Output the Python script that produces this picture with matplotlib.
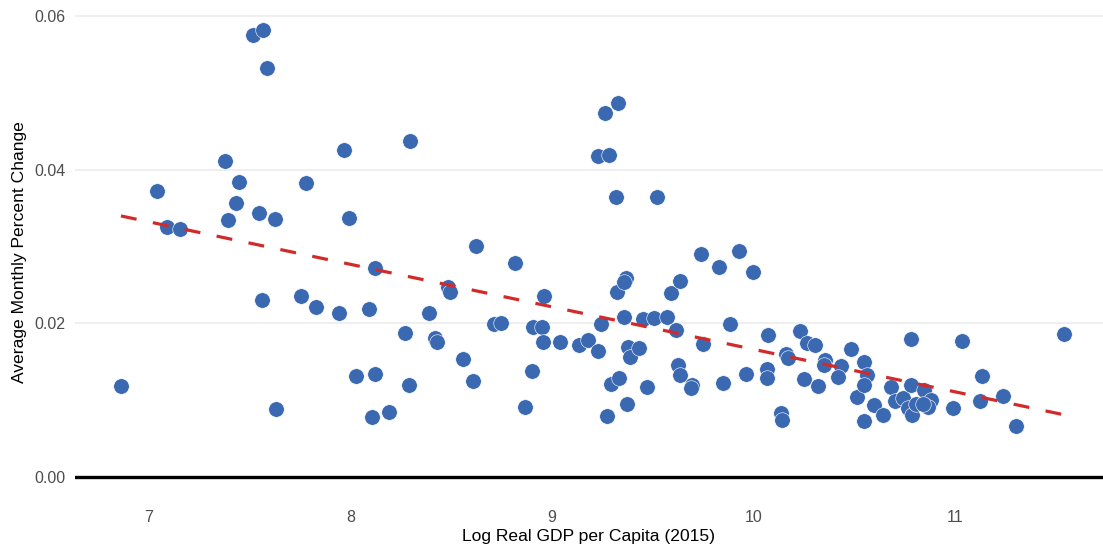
import numpy as np
import matplotlib
matplotlib.use("Agg")
import matplotlib.pyplot as plt

plt.rcParams['font.family'] = ['Liberation Sans', 'DejaVu Sans']

# Data
log_gdp = [
    6.861, 7.040, 7.089, 7.154, 7.378, 7.392, 7.432, 7.447, 7.517, 7.566,
    7.586, 7.546, 7.561, 7.626, 7.631, 7.755, 7.780, 7.830, 7.944, 7.969,
    7.994, 8.029, 8.093, 8.108, 8.123, 8.123, 8.192, 8.272, 8.292, 8.297,
    8.391, 8.421, 8.431, 8.485, 8.495, 8.560, 8.610, 8.624, 8.714, 8.749,
    8.818, 8.868, 8.903, 8.908, 8.952, 8.962, 8.957, 9.042, 9.136, 9.181,
    9.231, 9.231, 9.245, 9.265, 9.285, 9.275, 9.295, 9.320, 9.325, 9.330,
    9.335, 9.360, 9.370, 9.360, 9.375, 9.380, 9.385, 9.434, 9.454, 9.474,
    9.509, 9.519, 9.573, 9.593, 9.618, 9.628, 9.638, 9.638, 9.697, 9.692,
    9.742, 9.752, 9.827, 9.851, 9.886, 9.926, 9.961, 10.000, 10.070, 10.065,
    10.065, 10.135, 10.140, 10.164, 10.174, 10.229, 10.264, 10.308, 10.249, 10.323,
    10.353, 10.348, 10.433, 10.418, 10.482, 10.512, 10.547, 10.562, 10.547, 10.547,
    10.597, 10.641, 10.681, 10.701, 10.741, 10.780, 10.780, 10.766, 10.785, 10.805,
    10.845, 10.880, 10.865, 10.840, 10.989, 11.034, 11.123, 11.133, 11.237, 11.302,
    11.541,
]
avg_change = [
    0.01186, 0.03727, 0.03257, 0.03231, 0.04117, 0.03349, 0.03570, 0.03844, 0.05759, 0.05824,
    0.05329, 0.03440, 0.02306, 0.03362, 0.00886, 0.02358, 0.03831, 0.02215, 0.02137, 0.04260,
    0.03375, 0.01316, 0.02189, 0.00782, 0.02723, 0.01342, 0.00847, 0.01876, 0.01199, 0.04378,
    0.02137, 0.01811, 0.01759, 0.02476, 0.02410, 0.01537, 0.01251, 0.03010, 0.01993, 0.02007,
    0.02788, 0.00912, 0.01381, 0.01954, 0.01954, 0.02358, 0.01759, 0.01759, 0.01720, 0.01785,
    0.04182, 0.01642, 0.01993, 0.04743, 0.04195, 0.00795, 0.01212, 0.03648, 0.02410, 0.04873,
    0.01290, 0.02085, 0.02593, 0.02541, 0.00951, 0.01694, 0.01563, 0.01681, 0.02059, 0.01173,
    0.02072, 0.03648, 0.02085, 0.02397, 0.01915, 0.01459, 0.01329, 0.02554, 0.01199, 0.01160,
    0.02905, 0.01733, 0.02736, 0.01225, 0.01993, 0.02945, 0.01342, 0.02671, 0.01850, 0.01407,
    0.01290, 0.00834, 0.00743, 0.01603, 0.01550, 0.01902, 0.01746, 0.01720, 0.01277, 0.01186,
    0.01524, 0.01459, 0.01446, 0.01303, 0.01668, 0.01042, 0.01498, 0.01329, 0.01199, 0.00730,
    0.00938, 0.00808, 0.01173, 0.00990, 0.01029, 0.01798, 0.01199, 0.00899, 0.00808, 0.00951,
    0.01134, 0.01003, 0.00912, 0.00951, 0.00899, 0.01772, 0.00990, 0.01316, 0.01055, 0.00664,
    0.01863,
]
y_ticks = [0.00, 0.02, 0.04, 0.06]
x_ticks = [7, 8, 9, 10, 11]

x = np.array(log_gdp)
y = np.array(avg_change)

fig = plt.figure(figsize=(11.03, 5.51), dpi=100)
ax = fig.add_axes([0.068, 0.0944, 0.932, 0.8966])

ax.set_xlim(6.633, 11.735)
ax.set_ylim(-0.0029, 0.0615)

for t in y_ticks:
    ax.axhline(t, color='#ebebeb', linewidth=1.1, zorder=0)
ax.axhline(0, color='black', linewidth=2.4, zorder=1)

ax.scatter(x, y, s=125, color='#3a69b2', edgecolors='white', linewidths=0.4, zorder=3)

coef = np.polyfit(x, y, 1)
xs = np.array([x.min(), x.max()])
ax.plot(xs, np.polyval(coef, xs), color='#d12a2a', linewidth=2.3,
        dashes=(5.0, 5.2), zorder=4)

ax.set_xticks(x_ticks)
ax.set_xticklabels([str(v) for v in x_ticks])
ax.set_yticks(y_ticks)
ax.set_yticklabels([f"{v:.2f}" for v in y_ticks])
ax.tick_params(axis='both', length=0, labelsize=11.5, labelcolor='#4d4d4d')
ax.tick_params(axis='x', pad=8)
ax.tick_params(axis='y', pad=7)

for s in ax.spines.values():
    s.set_visible(False)

ax.set_xlabel("Log Real GDP per Capita (2015)", fontsize=12.6, color='black', labelpad=3)
ax.set_ylabel("Average Monthly Percent Change", fontsize=12.6, color='black', labelpad=5)

fig.savefig("out.png", dpi=100)
